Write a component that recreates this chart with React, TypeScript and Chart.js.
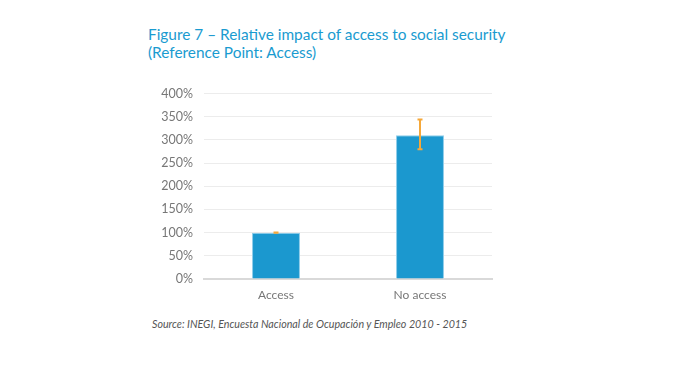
import React, { useEffect, useRef } from "react";
import { Chart, registerables } from "chart.js";

Chart.register(...registerables);

const categories = ["Access", "No access"];
const values = [100, 310];
const errLow = [99.5, 280];
const errHigh = [100.5, 344];
const yTicks = [0, 50, 100, 150, 200, 250, 300, 350, 400];

const errorBarPlugin = {
  id: "errorBars",
  afterDatasetsDraw(chart: any) {
    const ctx = chart.ctx;
    const meta = chart.getDatasetMeta(0);
    const ys = chart.scales.y;
    ctx.save();
    ctx.strokeStyle = "#f5a83a";
    ctx.lineWidth = 2;
    meta.data.forEach((bar: any, i: number) => {
      const x = bar.x;
      const y1 = ys.getPixelForValue(errLow[i]);
      const y2 = ys.getPixelForValue(errHigh[i]);
      ctx.beginPath();
      ctx.moveTo(x, y1);
      ctx.lineTo(x, y2);
      ctx.moveTo(x - 2.5, y1);
      ctx.lineTo(x + 2.5, y1);
      ctx.moveTo(x - 2.5, y2);
      ctx.lineTo(x + 2.5, y2);
      ctx.stroke();
    });
    ctx.restore();
  },
};

export default function App() {
  const ref = useRef<HTMLCanvasElement>(null);
  useEffect(() => {
    if (!ref.current) return;
    const chart = new Chart(ref.current, {
      type: "bar",
      data: {
        labels: categories,
        datasets: [
          {
            data: values,
            backgroundColor: "#1b98cf",
            borderColor: "#8fcdea",
            borderWidth: 1,
            barPercentage: 0.333,
            categoryPercentage: 1,
          },
        ],
      },
      options: {
        animation: false,
        responsive: false,
        maintainAspectRatio: false,
        layout: { padding: { top: 8, right: 8, left: 0, bottom: 0 } },
        plugins: { legend: { display: false }, tooltip: { enabled: false } },
        scales: {
          x: {
            grid: { display: false, drawTicks: false },
            border: { color: "#d9d9d9", width: 2 },
            ticks: { color: "#777", font: { family: "Lato", size: 12 }, padding: 9 },
            afterFit: (s: any) => { s.height = 31; },
          },
          y: {
            min: 0,
            max: 400,
            afterBuildTicks: (s: any) => { s.ticks = yTicks.map((v) => ({ value: v })); },
            grid: { color: "#ececec", lineWidth: 1, drawTicks: false },
            border: { display: false },
            ticks: {
              color: "#777",
              font: { family: "Lato", size: 12.5 },
              padding: 11,
              callback: (v: any) => v + "%",
            },
            afterFit: (s: any) => { s.width = 64; },
          },
        },
      },
      plugins: [errorBarPlugin],
    });
    return () => chart.destroy();
  }, []);
  return (
    <div style={{ position: "absolute", left: 0, top: 0, width: 674, height: 365, background: "#fff" }}>
      <div
        style={{
          position: "absolute",
          left: 148,
          top: 25,
          color: "#1a9bd0",
          fontFamily: "Lato",
          fontSize: 15.4,
          lineHeight: "18px",
        }}
      >
        Figure 7 – Relative impact of access to social security
        <br />
        (Reference Point: Access)
      </div>
      <canvas ref={ref} width={360} height={235} style={{ position: "absolute", left: 140, top: 75 }} />
      <div
        style={{
          position: "absolute",
          left: 152,
          top: 317,
          color: "#555",
          fontFamily: "Lato",
          fontStyle: "italic",
          fontSize: 10.7,
        }}
      >
        Source: INEGI, Encuesta Nacional de Ocupación y Empleo 2010 - 2015
      </div>
    </div>
  );
}
